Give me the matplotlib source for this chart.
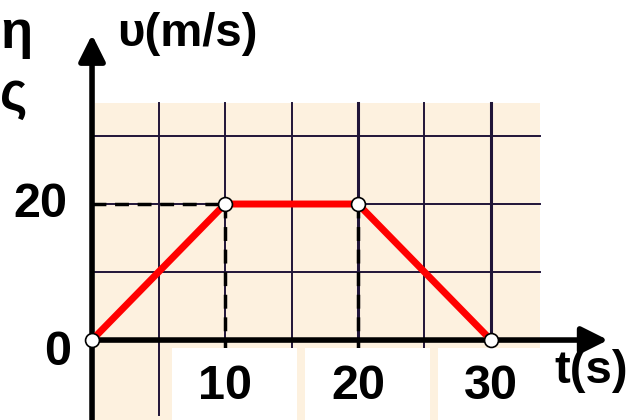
import matplotlib.pyplot as plt
from matplotlib.patches import Rectangle

plt.rcParams['font.family'] = ['Liberation Sans', 'DejaVu Sans']

# velocity-time graph: accelerate, cruise, brake
t_points = [0, 10, 20, 30]
v_points = [0, 20, 20, 0]
x_ticks = [10, 20, 30]
y_ticks = [0, 20]
grid_x = [5, 10, 15, 20, 25, 30]
grid_y = [10, 20, 30]

fig = plt.figure(figsize=(6.43, 4.2), dpi=100)
ax = fig.add_axes([0, 0, 1, 1])
ax.set_xlim(-6.92, 41.43)
ax.set_ylim(-11.76, 50.0)
ax.axis('off')

# peach graph paper
ax.add_patch(Rectangle((0.2, -11.76), 33.5, 46.6, facecolor='#fdf1df',
                       edgecolor='none', zorder=0))
for gx in grid_x:
    lw = 2.2 if gx in (20, 30) else 1.4
    ax.plot([gx, gx], [-11.0, 34.8], color='#201538', lw=lw, zorder=1)
for gy in grid_y:
    ax.plot([0.2, 33.7], [gy, gy], color='#201538', lw=1.4, zorder=1)

# dashed guides to the corner points
ax.plot([0, 10], [20, 20], color='black', lw=2.5, ls=(0, (4, 2.5)), zorder=2)
for tx in (10, 20):
    ax.plot([tx, tx], [20, -4], color='black', lw=2.5, ls=(0, (4, 2.5)), zorder=2)

# white label plates under the time ticks
for tx in x_ticks:
    ax.add_patch(Rectangle((tx - 4.0, -11.76), 9.4, 10.6, facecolor='white',
                           edgecolor='none', zorder=3))

# axes with arrowheads
ax.annotate('', xy=(38.8, 0), xytext=(0, 0),
            arrowprops=dict(arrowstyle='-|>', lw=4, color='black',
                            mutation_scale=40, shrinkA=0, shrinkB=0), zorder=4)
ax.annotate('', xy=(0, 44.9), xytext=(0, -11.76),
            arrowprops=dict(arrowstyle='-|>', lw=4, color='black',
                            mutation_scale=40, shrinkA=0, shrinkB=0), zorder=4)

# the motion itself
ax.plot(t_points, v_points, color='#ff0000', lw=5, solid_capstyle='butt', zorder=5)
ax.plot(t_points, v_points, ls='none', marker='o', ms=10, mfc='white',
        mec='black', mew=1.2, zorder=6)

# tick labels
for tx in x_ticks:
    ax.text(tx, -6.9, str(tx), fontsize=35, fontweight='bold', ha='center',
            va='center', zorder=7)
ax.text(-3.85, 20, '20', fontsize=35, fontweight='bold', ha='center',
        va='center', zorder=7)
ax.text(-2.6, -1.8, '0', fontsize=35, fontweight='bold', ha='center',
        va='center', zorder=7)

# axis titles
ax.text(1.9, 45.0, 'υ(m/s)', fontsize=34, fontweight='bold', ha='left',
        va='center', zorder=7)
ax.text(34.8, -4.5, 't(s)', fontsize=34, fontweight='bold', ha='left',
        va='center', zorder=7)

# edge of the neighbouring text column
ax.text(-6.9, 45.0, 'η', fontsize=38, fontweight='bold', ha='left',
        va='center', zorder=7)
ax.text(-6.9, 36.0, 'ς', fontsize=38, fontweight='bold', ha='left',
        va='center', zorder=7)

fig.savefig('out.png', dpi=100)
